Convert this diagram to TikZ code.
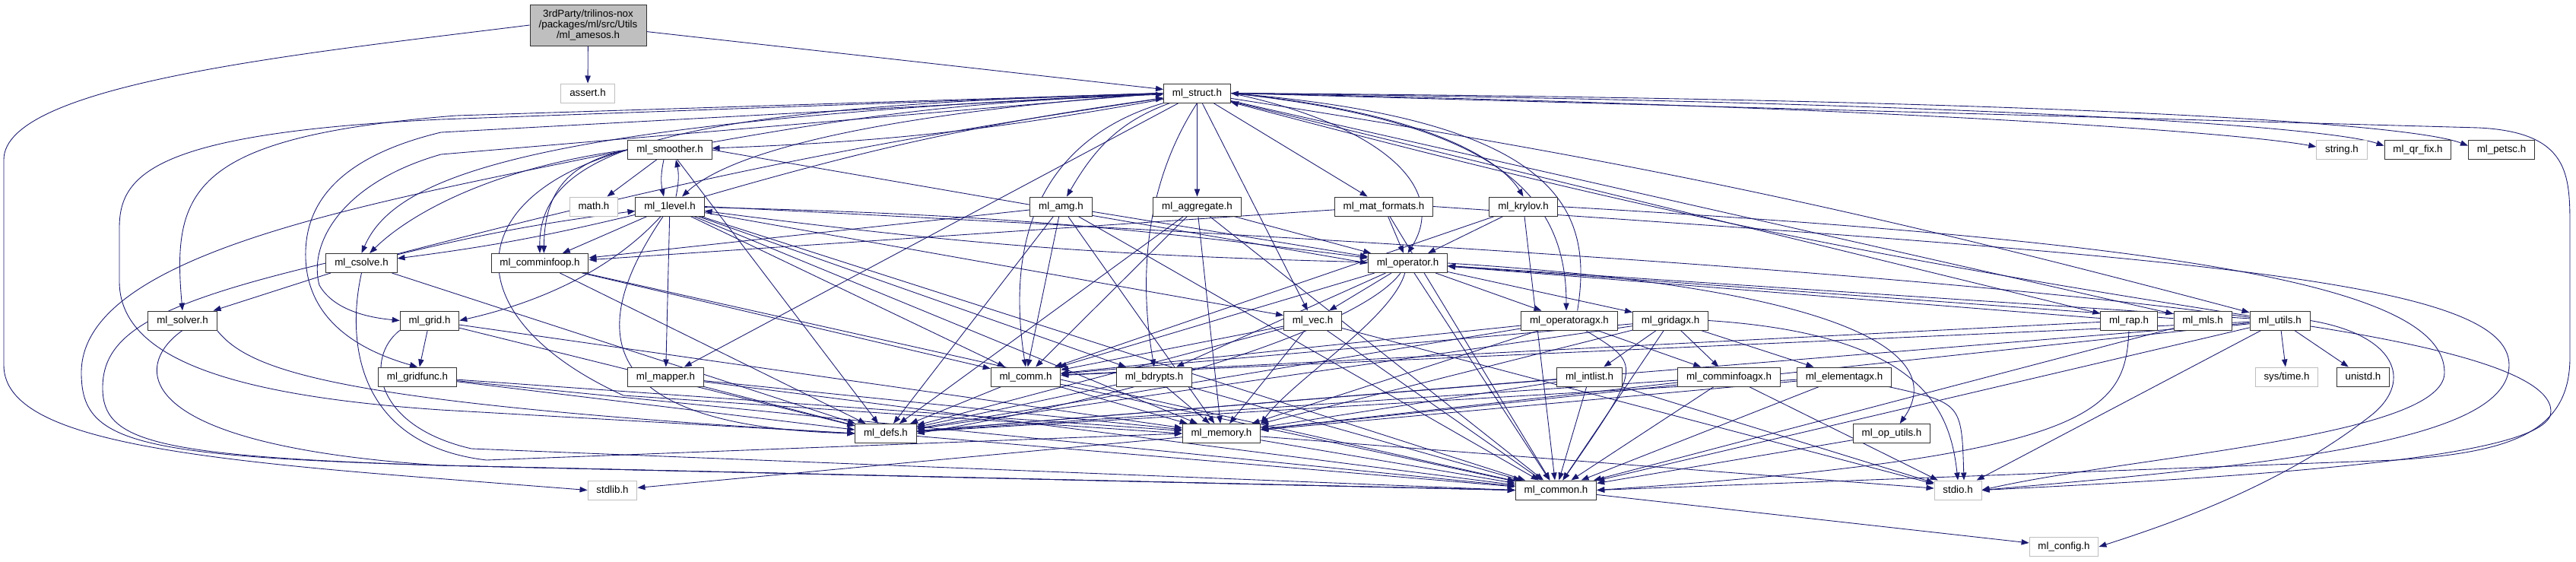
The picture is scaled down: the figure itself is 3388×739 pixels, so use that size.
\documentclass[tikz,border=0pt]{standalone}
\usepackage{fontspec}
\setmainfont{Liberation Sans}
\usetikzlibrary{arrows.meta,backgrounds}
\definecolor{edgec}{HTML}{191970}
\definecolor{sysb}{HTML}{BFBFBF}
\tikzset{
  nb/.style={draw=black!80, fill=white, line width=0.75pt, font=\fontsize{10}{12}\selectfont,
    inner xsep=8.5pt, inner ysep=0pt, minimum height=18.75pt, text height=7.4pt, text depth=2.1pt},
  sys/.style={nb, draw=sysb},
  root/.style={draw=black!80, fill=sysb, line width=0.75pt, font=\fontsize{10}{10.8}\selectfont,
    align=center, inner sep=2pt, minimum width=114.75pt, minimum height=40.5pt},
  e/.style={draw=edgec, line width=0.65pt, -{Triangle[length=7.5pt,width=5.5pt]}},
}
\begin{document}
\begin{tikzpicture}[x=0.75pt,y=-0.75pt]
\useasboundingbox (0,0) rectangle (3388,739);
% nodes
\node[root] (amesos) at (773.5,33) {3rdParty/trilinos-nox\\/packages/ml/src/Utils\\/ml\_amesos.h};
\node[sys] (assert) at (773,122.5) {assert.h};
\node[nb] (struct) at (1574.5,122.5) {ml\_struct.h};
\node[nb] (smoother) at (881,197) {ml\_smoother.h};
\node[sys] (math) at (781,271.5) {math.h};
\node[nb] (onelevel) at (881,271.5) {ml\_1level.h};
\node[nb] (comminfoop) at (710,346) {ml\_comminfoop.h};
\node[nb] (csolve) at (475.5,346) {ml\_csolve.h};
\node[nb] (solver) at (240,421.5) {ml\_solver.h};
\node[nb] (grid) at (565,421.5) {ml\_grid.h};
\node[nb] (gridfunc) at (549,495.5) {ml\_gridfunc.h};
\node[nb] (mapper) at (875.5,495.5) {ml\_mapper.h};
\node[sys] (stdlib) at (805.5,644.5) {stdlib.h};
\node[nb] (amg) at (1395.5,271.5) {ml\_amg.h};
\node[nb] (aggregate) at (1574.5,271.5) {ml\_aggregate.h};
\node[nb] (comm) at (1349,495.5) {ml\_comm.h};
\node[nb] (bdrypts) at (1518,495.5) {ml\_bdrypts.h};
\node[nb] (defs) at (1165,570) {ml\_defs.h};
\node[nb] (memory) at (1606.5,570) {ml\_memory.h};
\node[nb] (matformats) at (1820,271.5) {ml\_mat\_formats.h};
\node[nb] (krylov) at (2003.5,271.5) {ml\_krylov.h};
\node[nb] (operator) at (1851.5,346) {ml\_operator.h};
\node[nb] (vec) at (1726.5,421.5) {ml\_vec.h};
\node[nb] (operatoragx) at (2064,421.5) {ml\_operatoragx.h};
\node[nb] (gridagx) at (2197,421.5) {ml\_gridagx.h};
\node[nb] (intlist) at (2090.5,495.5) {ml\_intlist.h};
\node[nb] (comminfoagx) at (2274,495.5) {ml\_comminfoagx.h};
\node[nb] (common) at (2046.5,644.5) {ml\_common.h};
\node[nb] (elementagx) at (2425.5,495.5) {ml\_elementagx.h};
\node[nb] (oputils) at (2488,570) {ml\_op\_utils.h};
\node[sys] (stdio) at (2575,644.5) {stdio.h};
\node[sys] (config) at (2714.5,719) {ml\_config.h};
\node[nb] (rap) at (2800,421.5) {ml\_rap.h};
\node[nb] (mls) at (2897,421.5) {ml\_mls.h};
\node[nb] (utils) at (2998.5,421.5) {ml\_utils.h};
\node[sys] (systime) at (3007.5,495.5) {sys/time.h};
\node[nb] (unistd) at (3108,495.5) {unistd.h};
\node[sys] (string) at (3080,197) {string.h};
\node[nb] (qrfix) at (3180,197) {ml\_qr\_fix.h};
\node[nb] (petsc) at (3290,197) {ml\_petsc.h};
\begin{scope}[on background layer]
\fill[white] (0,0) rectangle (3388,739);
% amesos
\draw[e] (amesos) -- (assert);
\draw[e] (amesos) -- (struct);
\draw[e] (amesos.west) .. controls (400,70) and (5,110) .. (5,210) -- (5,480) .. controls (5,570) and (200,600) .. (560,628) -- (stdlib.west);
% struct
\draw[e] (struct) to[bend left=4] (smoother);
\draw[e] (smoother) to[bend left=4] (struct);
\draw[e] (struct.west) .. controls (1150,150) and (960,200) .. ([xshift=12pt]onelevel.north);
\draw[e] (onelevel) to[bend left=4] (struct);
\draw[e] (struct.west) .. controls (900,140) and (708,190) .. (comminfoop.north);
\draw[e] (struct.west) .. controls (700,160) and (520,230) .. (csolve.north);
\draw[e] (csolve) to[bend left=3] (struct);
\draw[e] (struct.west) -- (600,152) .. controls (250,180) and (226,250) .. (solver.north);
\draw[e] (struct.west) -- (580,157) .. controls (200,175) and (157,230) .. (157,300) -- (157,370) .. controls (157,470) and (300,520) .. (580,539) -- (defs.west);
\draw[e] (struct.west) -- (580,174) .. controls (430,210) and (400,280) .. (402,340) .. controls (405,420) and (470,460) .. (gridfunc.north);
\draw[e] (struct.west) -- (580,203) .. controls (450,240) and (405,320) .. (420,375) .. controls (440,410) and (490,418) .. (grid.west);
\draw[e] (struct) -- (mapper);
\draw[e] (struct) to[out=200,in=60] (amg);
\draw[e] (struct.south west) .. controls (1380,180) and (1320,300) .. (comm.north);
\draw[e] (struct) -- (aggregate);
\draw[e] (struct.south) .. controls (1500,250) and (1500,380) .. (bdrypts.north);
\draw[e] (struct) -- (vec);
\draw[e] (struct) -- (matformats);
\draw[e] (struct.east) .. controls (1800,160) and (1910,240) .. (operator.north);
\draw[e] (struct.east) .. controls (1900,150) and (1980,220) .. (krylov.north);
\draw[e] (struct.east) .. controls (1960,160) and (2060,250) .. ([xshift=-3pt]operatoragx.north);
\draw[e] ([xshift=8pt]operatoragx.north) .. controls (2095,280) and (2060,160) .. (struct.east);
\draw[e] (struct) -- (rap);
\draw[e] (struct) -- (mls);
\draw[e] (struct) to[bend left=3] (utils);
\draw[e] (utils) to[bend left=3] (struct);
\draw[e] (struct.east) .. controls (2500,140) and (2950,175) .. ([yshift=3pt]string.west);
\draw[e] (struct.east) .. controls (2600,134) and (3060,166) .. ([yshift=4pt]qrfix.west);
\draw[e] (struct.east) .. controls (2700,130) and (3170,162) .. ([yshift=4pt]petsc.west);
\draw[e] (struct.east) -- (3260,168) .. controls (3380,174) and (3380,230) .. (3380,300) -- (3380,470) .. controls (3380,570) and (3300,595) .. (3150,605) -- (common.east);
% smoother
\draw[e] (smoother) -- (math);
\draw[e] ([xshift=-6pt]smoother.south) to[bend right=12] ([xshift=-6pt]onelevel.north);
\draw[e] ([xshift=6pt]onelevel.north) to[bend right=12] ([xshift=6pt]smoother.south);
\draw[e] (smoother.west) .. controls (740,215) and (716,260) .. ([xshift=4pt]comminfoop.north);
\draw[e] (smoother.west) .. controls (650,220) and (540,280) .. ([xshift=8pt]csolve.north);
\draw[e] (smoother.east) -- (operator.west);
\draw[e] (smoother) -- (defs);
\draw[e] (smoother.west) .. controls (500,265) and (107,330) .. (107,490) .. controls (107,580) and (170,600) .. (580,612) -- (common.west);
\draw[e] (smoother.west) .. controls (600,260) and (600,420) .. (820,520) -- (memory.west);
% 1level
\draw[e] (onelevel) -- (comminfoop);
\draw[e] (onelevel) to[bend left=3] (csolve);
\draw[e] (csolve) to[bend left=3] (onelevel);
\draw[e] (onelevel) .. controls (800,360) and (700,400) .. (grid.east);
\draw[e] (onelevel) -- (mapper);
\draw[e] (onelevel) to[bend left=3] (operator);
\draw[e] (operator) to[bend left=3] (onelevel);
\draw[e] (onelevel) -- (comm);
\draw[e] (onelevel) -- (vec);
\draw[e] (onelevel) -- (bdrypts);
\draw[e] (onelevel) .. controls (780,420) and (760,560) .. (defs.west);
\draw[e] (onelevel) -- (memory);
\draw[e] (onelevel) -- (common);
\draw[e] (onelevel.east) .. controls (2500,350) and (3350,420) .. (3355,540) .. controls (3360,600) and (3000,625) .. (stdio.east);
% comminfoop
\draw[e] (comminfoop) -- (comm);
\draw[e] (comminfoop) -- (defs);
\draw[e] (comminfoop) -- (common);
% csolve
\draw[e] (csolve) -- (solver);
\draw[e] (csolve) -- (defs);
\draw[e] (csolve.west) .. controls (200,400) and (135,440) .. (135,510) .. controls (135,580) and (200,600) .. (580,612) -- (common.west);
\draw[e] (csolve.south) .. controls (455,450) and (470,585) .. (640,605) -- (memory.west);
% solver
\draw[e] (solver.south) .. controls (175,480) and (165,585) .. (580,612) -- (common.west);
\draw[e] (solver.south east) .. controls (330,490) and (450,530) .. (defs.west);
% grid
\draw[e] (grid) -- (gridfunc);
\draw[e] (grid) -- (defs);
\draw[e] (grid) -- (memory);
\draw[e] (grid.south west) .. controls (480,470) and (490,560) .. (620,590) -- (common.west);
% gridfunc
\draw[e] (gridfunc) -- (defs);
\draw[e] (gridfunc) -- (memory);
\draw[e] (gridfunc) -- (common);
% mapper
\draw[e] (mapper) -- (defs);
\draw[e] (mapper) -- (memory);
\draw[e] (mapper) -- (common);
% amg
\draw[e] (amg) -- (operator);
\draw[e] (amg) -- (comminfoop);
\draw[e] (amg) -- (comm);
\draw[e] (amg) -- (defs);
\draw[e] (amg) -- (memory);
\draw[e] (amg) -- (common);
% aggregate
\draw[e] (aggregate) -- (operator);
\draw[e] (aggregate) -- (comm);
\draw[e] (aggregate) -- (defs);
\draw[e] (aggregate) -- (memory);
\draw[e] (aggregate) -- (common);
% matformats
\draw[e] (matformats) -- (operator);
\draw[e] (matformats) -- (comminfoop);
\draw[e] (matformats) -- (common);
\draw[e] (matformats.east) .. controls (2900,340) and (3300,370) .. (3300,480) .. controls (3300,580) and (3000,610) .. (stdio.east);
% krylov
\draw[e] (krylov) -- (operator);
\draw[e] (krylov) -- (comm);
\draw[e] (krylov) -- (common);
\draw[e] (krylov.east) .. controls (2900,320) and (3215,380) .. (3215,490) .. controls (3215,575) and (2800,600) .. (stdio.east);
% operator
\draw[e] (operator) -- (vec);
\draw[e] (operator) -- (operatoragx);
\draw[e] (operator) -- (gridagx);
\draw[e] (operator) -- (bdrypts);
\draw[e] (operator) -- (comm);
\draw[e] (operator) .. controls (1790,430) and (1500,520) .. (defs.east);
\draw[e] (operator) .. controls (1830,420) and (1700,500) .. (memory.north east);
\draw[e] (operator) -- (common);
\draw[e] (operator.east) .. controls (2450,380) and (2560,470) .. ([xshift=8pt]oputils.north);
% vec
\draw[e] (vec) -- (comm);
\draw[e] (vec) -- (defs);
\draw[e] (vec) -- (memory);
\draw[e] (vec) -- (common);
\draw[e] (vec) -- (stdio);
% operatoragx
\draw[e] (operatoragx) -- (comm);
\draw[e] (operatoragx) -- (defs);
\draw[e] (operatoragx) -- (memory);
\draw[e] (operatoragx) .. controls (2160,480) .. (common);
\draw[e] (operatoragx) -- (comminfoagx);
% gridagx
\draw[e] (gridagx) -- (intlist);
\draw[e] (gridagx) -- (comminfoagx);
\draw[e] (gridagx) -- (elementagx);
\draw[e] (gridagx) -- (defs);
\draw[e] (gridagx) -- (memory);
\draw[e] (gridagx) -- (common);
\draw[e] (gridagx) -- (comm);
\draw[e] (gridagx.east) .. controls (2530,440) and (2565,540) .. (stdio.north);
% intlist
\draw[e] (intlist) -- (defs);
\draw[e] (intlist) -- (memory);
\draw[e] (intlist) -- (common);
\draw[e] (intlist) -- (stdio);
% comminfoagx
\draw[e] (comminfoagx) -- (defs);
\draw[e] (comminfoagx) -- (memory);
\draw[e] (comminfoagx) -- (common);
\draw[e] (comminfoagx) -- (stdio);
% elementagx
\draw[e] (elementagx) -- (defs);
\draw[e] (elementagx) -- (memory);
\draw[e] (elementagx) -- (common);
\draw[e] (elementagx) .. controls (2580,530) .. ([xshift=6pt]stdio.north);
% oputils
\draw[e] (oputils) -- (common);
% comm
\draw[e] (comm) -- (defs);
\draw[e] (comm) -- (memory);
\draw[e] (comm) -- (common);
% bdrypts
\draw[e] (bdrypts) -- (defs);
\draw[e] (bdrypts) -- (memory);
\draw[e] (bdrypts) -- (common);
% defs
\draw[e] (defs) -- (common);
% memory
\draw[e] (memory) -- (stdlib);
\draw[e] (memory) -- (common);
\draw[e] (memory) -- (stdio);
% common
\draw[e] (common) -- (config);
% rap
\draw[e] (rap) -- (operator);
\draw[e] (rap) -- (comm);
\draw[e] (rap.south) .. controls (2795,540) and (2760,600) .. (common.east);
% mls
\draw[e] (mls) -- (operator);
\draw[e] (mls) -- (common);
% utils
\draw[e] (utils) -- (systime);
\draw[e] (utils) -- (unistd);
\draw[e] (utils) -- (operator);
\draw[e] (utils) -- (comm);
\draw[e] (utils) -- (defs);
\draw[e] (utils) -- (memory);
\draw[e] (utils) -- (common);
\draw[e] (utils) -- (stdio);
\draw[e] (utils.east) .. controls (3150,440) and (3175,500) .. (3120,545) .. controls (3000,640) and (2850,690) .. (config.east);
\end{scope}
\end{tikzpicture}
\end{document}
